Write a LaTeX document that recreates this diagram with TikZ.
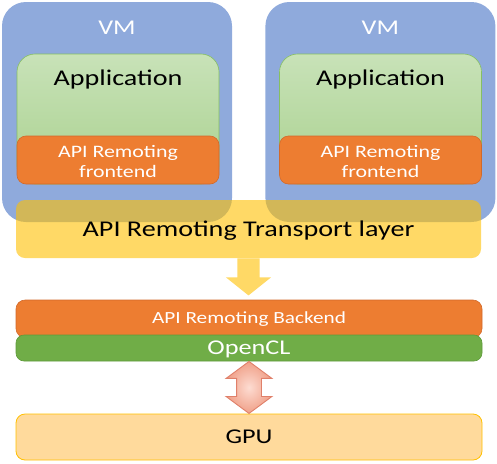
\documentclass[tikz,border=0pt]{standalone}
\usepackage{fontspec}
\setmainfont[FakeStretch=1.25]{Carlito}
\usetikzlibrary{shapes, shapes.arrows, positioning, calc}
\definecolor{vmblue}{HTML}{8FAADC}
\definecolor{apptop}{HTML}{C8E2B8}
\definecolor{appbottom}{HTML}{A9D18E}
\definecolor{appline}{HTML}{86BF62}
\definecolor{apiorange}{HTML}{ED7D31}
\definecolor{orangeline}{HTML}{D2692A}
\definecolor{gold}{HTML}{FFC000}
\definecolor{clgreen}{HTML}{70AD47}
\definecolor{clline}{HTML}{5E9A3A}
\definecolor{gpufill}{HTML}{FFDA9C}
\definecolor{linkedge}{HTML}{F0A088}
\definecolor{linkmid}{HTML}{FDDCD2}
\definecolor{linkline}{HTML}{E0806A}
\tikzstyle{vm} = [rectangle, fill=vmblue, rounded corners=24pt,
    minimum width=230pt, minimum height=220pt, inner sep=0pt]
\tikzstyle{vmlabel} = [text=white, inner sep=0pt,
    font=\fontsize{21}{25}\selectfont]
\tikzstyle{app} = [rectangle, draw=appline, line width=0.6pt, top color=apptop,
    bottom color=appbottom, rounded corners=18pt, minimum width=202pt, minimum height=130pt]
\tikzstyle{applabel} = [inner sep=0pt, font=\fontsize{22.5}{27}\selectfont]
\tikzstyle{frontend} = [rectangle, draw=orangeline, line width=0.6pt, fill=apiorange,
    rounded corners=9pt, minimum width=202pt, minimum height=48pt]
\tikzstyle{frontlabel} = [text=white, align=center, inner sep=0pt,
    font=\fontsize{17.5}{20}\selectfont]
\tikzstyle{transport} = [rectangle, fill=gold, fill opacity=0.6, text opacity=1,
    rounded corners=9pt, minimum width=465pt, minimum height=58pt, inner sep=0pt,
    text depth=0pt, font=\fontsize{22.5}{27}\selectfont]
\tikzstyle{backend} = [rectangle, draw=orangeline, line width=0.6pt, fill=apiorange,
    rounded corners=9pt, text=white, minimum width=466pt, minimum height=37.5pt,
    inner sep=0pt, font=\fontsize{17}{20}\selectfont]
\tikzstyle{opencl} = [rectangle, draw=clline, line width=0.6pt, fill=clgreen,
    rounded corners=8pt, text=white, minimum width=466pt, minimum height=26pt,
    inner sep=0pt, text depth=0pt, font=\fontsize{21}{25}\selectfont]
\tikzstyle{gpu} = [rectangle, draw=gold, line width=0.8pt, fill=gpufill,
    rounded corners=9pt, minimum width=466pt, minimum height=46pt,
    inner sep=0pt, text depth=0pt, font=\fontsize{21}{25}\selectfont]
\tikzstyle{pass} = [single arrow, shape border rotate=270, fill=gold, fill opacity=0.6,
    minimum height=37pt, inner sep=11pt, single arrow head extend=11.5pt,
    single arrow tip angle=102.7]
\tikzstyle{link} = [double arrow, shape border rotate=90, draw=linkline, line width=0.9pt,
    inner color=linkmid, outer color=linkedge,
    minimum height=52pt, inner sep=12pt, double arrow head extend=10.5pt,
    double arrow tip angle=107]

\begin{document}
\begin{tikzpicture}[x=1pt, y=-1pt]
    \useasboundingbox (0,0) rectangle (497,463);
    % Virtual machines
    \node [vm] (vmA) at (117,112) {};
    \node [vm, right=33pt of vmA] (vmB) {};
    \node [vmlabel, anchor=base] (vmAlabel) at (vmA.north |- 0,34) {VM};
    \node [vmlabel, anchor=base] (vmBlabel) at (vmB.north |- 0,34) {VM};
    % Guest side
    \node [app] (appA) at (118,119) {};
    \node [app] (appB) at (380.5,119) {};
    \node [applabel, anchor=base] (appAlabel) at (appA.north |- 0,85) {Application};
    \node [applabel, anchor=base] (appBlabel) at (appB.north |- 0,85) {Application};
    \node [frontend] (frontA) at (118,160) {};
    \node [frontend] (frontB) at (380.5,160) {};
    \node [frontlabel] (frontAlabel) at ([yshift=-2pt]frontA.center) {API Remoting\\frontend};
    \node [frontlabel] (frontBlabel) at ([yshift=-2pt]frontB.center) {API Remoting\\frontend};
    % Transport
    \node [transport] (transport) at (248.5,229) {API Remoting Transport layer};
    % Host side
    \node [backend] (backend) at (249,318.75) {API Remoting Backend};
    \node [opencl] (opencl) at (249,348) {OpenCL};
    \node [gpu] (gpu) at (249,437) {GPU};
    % Arrows
    \node [pass, anchor=tail] (down) at (transport.south) {};
    \node [link] (both) at ($(opencl.south)!0.5!(gpu.north)$) {};
\end{tikzpicture}
\end{document}
